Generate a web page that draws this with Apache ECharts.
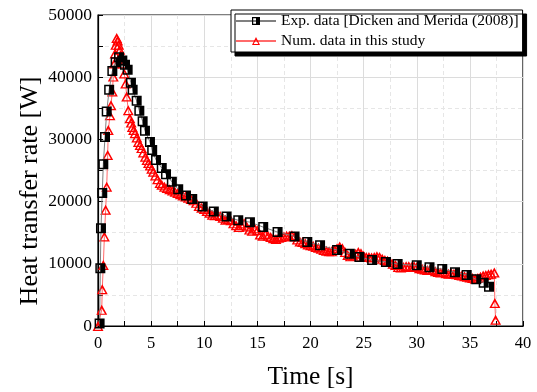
<!DOCTYPE html>
<html><head><meta charset="utf-8">
<script src="https://cdn.jsdelivr.net/npm/echarts@6/dist/echarts.min.js"></script>
<style>html,body{margin:0;padding:0;background:#fff}#c{width:537px;height:392px}</style>
</head><body><div id="c"></div>
<script>
var expT = [0.15,0.22,0.28,0.4,0.5,0.66,0.82,1.05,1.35,1.66,1.98,2.29,2.54,2.79,3.1,3.26,3.64,3.89,4.2,4.42,4.89,5.1,5.46,6.0,6.4,6.95,7.55,8.28,8.87,9.85,10.9,12.1,13.2,14.3,15.55,16.9,18.5,19.7,20.9,22.5,23.7,24.6,25.8,27.1,28.2,30.0,31.2,32.4,33.6,34.7,35.6,36.3,36.8];
var expQ = [400,9300,15700,21400,26000,30400,34500,38000,41000,42400,43200,42700,42000,41200,39100,38000,36200,34600,32900,31400,29600,28300,26700,25400,24400,23200,22000,21000,20400,19200,18400,17600,17000,16700,15900,15100,14400,13500,13000,12200,11600,11100,10600,10300,9950,9750,9450,9150,8650,8200,7500,6950,6300];
var numT = [0.0,0.35,0.4,0.5,0.6,0.72,0.82,0.91,0.97,1.13,1.22,1.35,1.44,1.53,1.6,1.67,1.76,1.85,1.95,2.05,2.15,2.27,2.37,2.47,2.6,2.7,2.85,3.0,3.12,3.23,3.35,3.48,3.65,3.8,3.95,4.1,4.26,4.45,4.6,4.75,4.9,5.05,5.2,5.4,5.6,5.83,6.0,6.25,6.5,6.75,7.0,7.25,7.5,7.75,8.0,8.25,8.5,8.75,9.0,9.25,9.5,9.75,10.0,10.25,10.5,10.75,11.0,11.25,11.5,11.75,12.0,12.25,12.5,12.75,13.0,13.25,13.5,13.75,14.0,14.25,14.5,14.75,15.0,15.25,15.5,15.75,16.0,16.25,16.5,16.75,17.0,17.25,17.5,17.75,18.0,18.25,18.5,18.75,19.0,19.25,19.5,19.75,20.0,20.25,20.5,20.75,21.0,21.25,21.5,21.75,22.0,22.25,22.5,22.75,23.0,23.25,23.5,23.75,24.0,24.25,24.5,24.75,25.0,25.25,25.5,25.75,26.0,26.25,26.5,26.75,27.0,27.25,27.5,27.75,28.0,28.25,28.5,28.75,29.0,29.25,29.5,29.75,30.0,30.25,30.5,30.75,31.0,31.25,31.5,31.75,32.0,32.25,32.5,32.75,33.0,33.25,33.5,33.75,34.0,34.25,34.5,34.75,35.0,35.25,35.5,35.75,36.0,36.25,36.5,36.75,37.0,37.3,37.35,37.42];
var numQ = [0,2600,5900,9800,14400,18700,22400,27500,31500,33900,35500,37700,40100,42200,43800,45200,46300,45900,45200,44400,43600,42800,42200,40600,39000,36900,34700,33400,32700,32000,31500,31000,30300,29600,29100,28600,27900,27200,26700,26200,25800,25300,24800,24200,23600,23000,22700,22400,22200,22000,21800,21600,21400,21200,21000,20800,20600,20400,20200,19800,19300,19000,18800,18500,18200,17900,17800,17900,17700,17400,17100,17200,17000,16500,16200,15900,16200,16500,16000,15500,15300,15700,15400,14700,14500,14800,14500,14300,14100,14000,14200,14300,14400,14500,14500,14600,14400,13900,13600,13500,13300,13100,13000,12900,12700,12600,12400,12200,12100,12000,12000,12200,12500,12800,12500,11900,11400,11200,11300,11600,11900,11700,11300,11100,11100,11000,11100,11200,11100,10800,10600,10500,10300,10000,9800,9500,9400,9500,9600,9600,9500,9600,9500,9300,9200,9100,9000,9100,9000,8800,8700,8600,8700,8500,8400,8500,8400,8300,8200,8100,8000,7900,7800,7700,7600,7700,7900,8100,8200,8300,8400,8600,3700,1000];
var xTicks = [0,5,10,15,20,25,30,35,40];
var yTicks = [0,10000,20000,30000,40000,50000];

function zip(a,b){return a.map(function(v,i){return [v,b[i]];});}
var SERIF = 'Liberation Serif';
var sqPath = 'path://M0 0H10V10H0Z M1.5 1.5V8.5H5V1.5Z';
var triPath = 'path://M5 0L10 10H0Z M5 3.4L2.1 8.8H7.9Z';

var chart = echarts.init(document.getElementById('c'), null, {renderer:'canvas'});
chart.setOption({
  animation:false,
  backgroundColor:'#fff',
  grid:{left:98, right:14, top:15, bottom:66, containLabel:false, outerBoundsMode:'none',
        show:true, borderColor:'#000', borderWidth:1.2, backgroundColor:'transparent'},
  graphic:[{
    type:'text', x:30, y:191, rotation:Math.PI/2,
    style:{text:'Heat transfer rate [W]', fontFamily:SERIF, fontSize:26, fill:'#000', align:'center', verticalAlign:'middle'}
  }],
  legend:{
    left:231, top:10, orient:'vertical', itemGap:4, itemWidth:40, itemHeight:10,
    padding:[3,4,3,4],
    backgroundColor:'#fff', borderColor:'#000', borderWidth:1,
    shadowColor:'#000', shadowBlur:0, shadowOffsetX:4, shadowOffsetY:4,
    textStyle:{fontFamily:SERIF, fontSize:15.5, color:'#000'},
    data:['Exp. data [Dicken and Merida (2008)]','Num. data in this study']
  },
  xAxis:{
    type:'value', min:xTicks[0], max:xTicks[xTicks.length-1], interval:5,
    name:'Time [s]', nameLocation:'middle', nameGap:38,
    nameTextStyle:{fontFamily:SERIF, fontSize:25.5, color:'#000'},
    axisLine:{lineStyle:{color:'#000', width:1.2}},
    axisTick:{inside:true, length:5, lineStyle:{color:'#000'}},
    minorTick:{show:true, splitNumber:2, length:5, lineStyle:{color:'#000'}},
    axisLabel:{fontFamily:SERIF, fontSize:16.5, color:'#000', margin:9},
    splitLine:{show:true, lineStyle:{color:'#dcdcdc', width:1}},
    minorSplitLine:{show:true, lineStyle:{color:'#e6e6e6', width:1, type:[4,3]}}
  },
  yAxis:{
    type:'value', min:yTicks[0], max:yTicks[yTicks.length-1], interval:10000,
    axisLine:{show:true, lineStyle:{color:'#000', width:1.2}},
    axisTick:{show:true, inside:true, length:5, lineStyle:{color:'#000'}},
    minorTick:{show:true, splitNumber:2, length:5, lineStyle:{color:'#000'}},
    axisLabel:{fontFamily:SERIF, fontSize:17.5, color:'#000', margin:6, formatter:function(v){return String(v);}},
    splitLine:{show:true, lineStyle:{color:'#dcdcdc', width:1}},
    minorSplitLine:{show:true, lineStyle:{color:'#e6e6e6', width:1, type:[4,3]}}
  },
  series:[
    {
      name:'Num. data in this study', type:'line', data:zip(numT,numQ),
      symbol:triPath, symbolSize:[11,10], showAllSymbol:true,
      lineStyle:{color:'#ff6a6a', width:1},
      itemStyle:{color:'#ff0000'}, z:2
    },
    {
      name:'Exp. data [Dicken and Merida (2008)]', type:'line', data:zip(expT,expQ),
      symbol:sqPath, symbolSize:[10,10], showAllSymbol:true,
      lineStyle:{color:'#808080', width:1},
      itemStyle:{color:'#000'}, z:3
    }
  ]
});
</script></body></html>
